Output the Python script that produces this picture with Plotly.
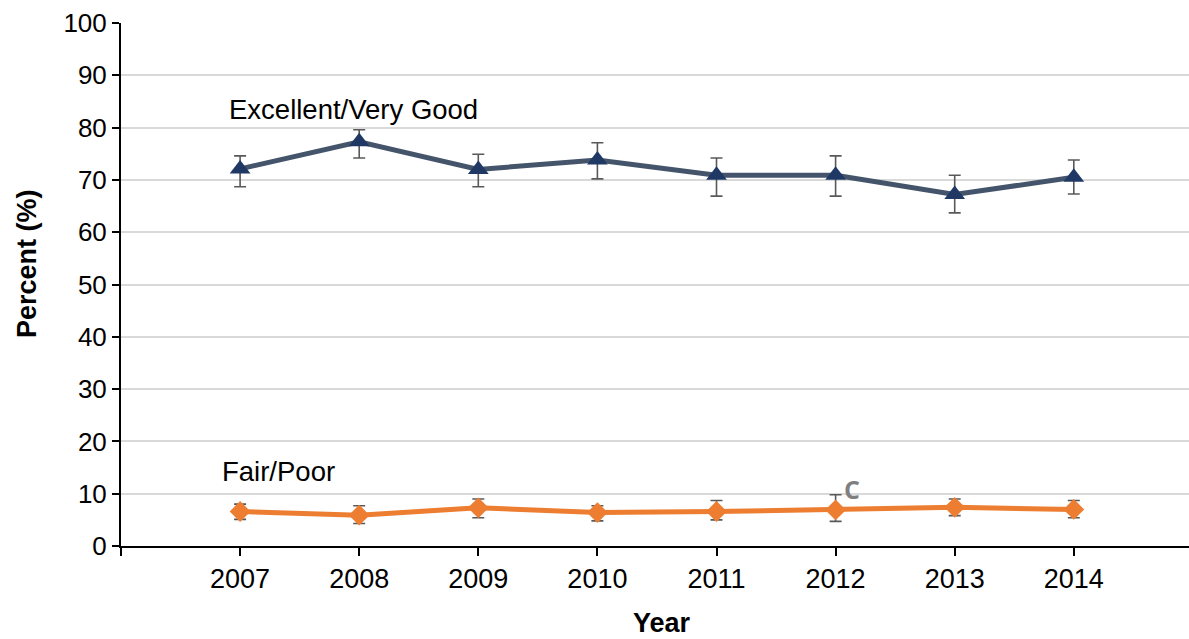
import plotly.graph_objects as go

years = [2007, 2008, 2009, 2010, 2011, 2012, 2013, 2014]

excellent = [72.1, 77.3, 72.0, 73.8, 70.9, 70.9, 67.2, 70.5]
excellent_upper = [74.6, 79.6, 74.9, 77.1, 74.2, 74.6, 70.9, 73.8]
excellent_lower = [68.7, 74.2, 68.7, 70.2, 66.9, 66.9, 63.7, 67.3]

fair_poor = [6.6, 5.9, 7.3, 6.4, 6.6, 6.9, 7.4, 7.0]
fair_poor_upper = [8.0, 7.7, 9.0, 7.7, 8.7, 9.8, 9.0, 8.7]
fair_poor_lower = [5.1, 4.3, 5.4, 4.8, 5.0, 4.7, 5.8, 5.4]

y_ticks = [0, 10, 20, 30, 40, 50, 60, 70, 80, 90, 100]

FONT = "Liberation Sans, Arial, sans-serif"
ERR_COLOR = "#595959"


def err(values, upper, lower):
    return dict(
        type="data",
        symmetric=False,
        array=[u - v for u, v in zip(upper, values)],
        arrayminus=[v - l for v, l in zip(values, lower)],
        color=ERR_COLOR,
        thickness=1.6,
        width=6,
    )


fig = go.Figure()

fig.add_trace(go.Scatter(
    x=years, y=excellent, mode="lines+markers",
    name="Excellent/Very Good",
    line=dict(color="#44546A", width=5),
    marker=dict(symbol="triangle-up", size=18, color="#1F3864"),
    error_y=err(excellent, excellent_upper, excellent_lower),
))

fig.add_trace(go.Scatter(
    x=years, y=fair_poor, mode="lines+markers",
    name="Fair/Poor",
    line=dict(color="#ED7D31", width=5),
    marker=dict(symbol="diamond", size=16, color="#ED7D31"),
    error_y=err(fair_poor, fair_poor_upper, fair_poor_lower),
))

fig.add_annotation(x=2007.948, y=83.4, text="Excellent/Very Good", showarrow=False,
                   font=dict(family=FONT, size=27.5, color="#000000"),
                   xanchor="center", yanchor="middle")
fig.add_annotation(x=2007.32, y=14.3, text="Fair/Poor", showarrow=False,
                   font=dict(family=FONT, size=27.5, color="#000000"),
                   xanchor="center", yanchor="middle")
fig.add_annotation(x=2012.14, y=10.9, text="<b>C</b>", showarrow=False,
                   font=dict(family="Open Sans, sans-serif", size=25, color="#7F7F7F"),
                   xanchor="center", yanchor="middle")

# Axis titles
fig.add_annotation(xref="paper", yref="paper", x=0.5066, y=-0.148,
                   text="<b>Year</b>", showarrow=False,
                   font=dict(family=FONT, size=27, color="#000000"),
                   xanchor="center", yanchor="middle")
fig.add_annotation(xref="paper", yref="paper", x=-0.088, y=0.539,
                   text="<b>Percent (%)</b>", showarrow=False, textangle=-90,
                   font=dict(family=FONT, size=27, color="#000000"),
                   xanchor="center", yanchor="middle")

fig.update_layout(
    width=1189, height=639,
    margin=dict(l=121, r=0, t=23, b=93),
    paper_bgcolor="white", plot_bgcolor="white",
    showlegend=False,
    font=dict(family=FONT, size=27, color="#000000"),
)

fig.update_xaxes(
    range=[2006, 2006 + (1189 - 121) / 119.1],
    tickmode="array", tickvals=[2006] + years, ticktext=[""] + [str(y) for y in years],
    showline=True, linecolor="#000000", linewidth=2,
    ticks="outside", ticklen=8, tickwidth=1.5, tickcolor="#000000",
    showgrid=False, zeroline=False,
    tickfont=dict(family=FONT, size=27),
)
fig.update_yaxes(
    range=[0, 100],
    tickmode="array", tickvals=y_ticks,
    showline=True, linecolor="#000000", linewidth=2,
    ticks="outside", ticklen=7, tickwidth=1.5, tickcolor="#000000",
    showgrid=True, gridcolor="#D9D9D9", gridwidth=1.5,
    zeroline=False,
    tickfont=dict(family=FONT, size=26),
)

fig.write_html("out.html")
